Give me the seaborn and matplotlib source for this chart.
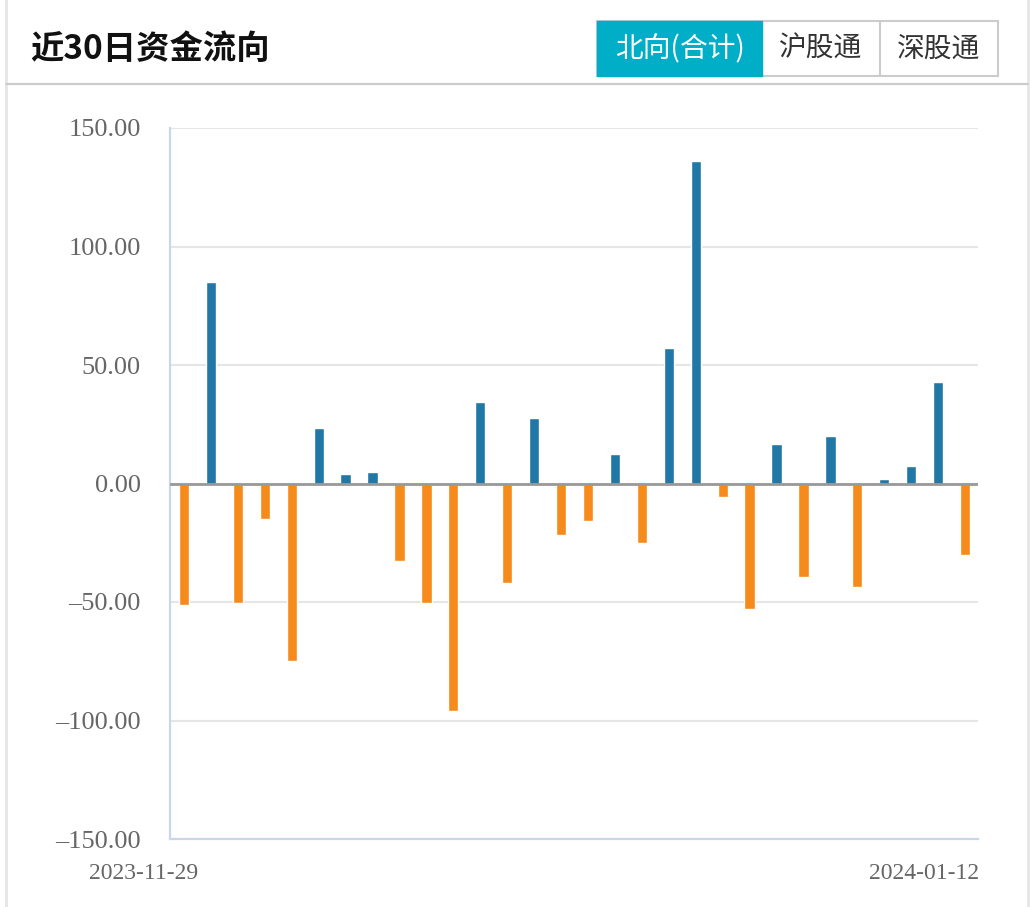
import numpy as np
import pandas as pd
import matplotlib
matplotlib.use("Agg")
import matplotlib.pyplot as plt
import seaborn as sns
from matplotlib.patches import Rectangle
from matplotlib.lines import Line2D
from matplotlib.transforms import ScaledTranslation

# ---------------- data ----------------
dates = ["2023-11-29", "2023-11-30", "2023-12-01", "2023-12-04", "2023-12-05",
         "2023-12-06", "2023-12-07", "2023-12-08", "2023-12-11", "2023-12-12",
         "2023-12-13", "2023-12-14", "2023-12-15", "2023-12-18", "2023-12-19",
         "2023-12-20", "2023-12-21", "2023-12-22", "2023-12-27", "2023-12-28",
         "2023-12-29", "2024-01-02", "2024-01-03", "2024-01-04", "2024-01-05",
         "2024-01-08", "2024-01-09", "2024-01-10", "2024-01-11", "2024-01-12"]
flows = [-51.3, 85.2, -50.4, -14.8, -75.0, 23.3, 3.8, 4.7, -32.6, -50.4,
         -96.2, 34.3, -41.9, 27.5, -21.6, -15.7, 12.3, -25.0, 57.2, 136.0,
         -5.5, -53.0, 16.5, -39.4, 19.9, -43.6, 2.1, 7.2, 42.8, -30.1]
yticks = [-150, -100, -50, 0, 50, 100, 150]
title = "近30日资金流向"
tabs = ["北向(合计)", "沪股通", "深股通"]

# ---------------- figure ----------------
W, H = 1035, 907
sns.set_theme(style="white")
plt.rcParams['font.family'] = ['Noto Sans CJK SC', 'DejaVu Sans']

fig = plt.figure(figsize=(W / 100, H / 100), dpi=100)
fig.patch.set_facecolor("white")

def fx(x):
    return x / W

def fy(y):
    return 1 - y / H

# axes placement
ax_l, ax_r, ax_t, ax_b = 170, 978, 128, 839
ax = fig.add_axes([fx(ax_l), fy(ax_b), fx(ax_r - ax_l), (ax_b - ax_t) / H])

df = pd.DataFrame({"date": dates, "flow": flows})
df["sign"] = np.where(df["flow"] >= 0, "pos", "neg")
sns.barplot(data=df, x="date", y="flow", hue="sign",
            palette={"pos": "#2177a5", "neg": "#f68a1a"},
            dodge=False, width=0.38, legend=False, ax=ax,
            saturation=1, zorder=2, order=dates)

ax.set_xlim(-0.52, len(dates) - 1 + 0.48)
ax.set_ylim(-150, 150)
ax.set_yticks(yticks)
ax.set_yticklabels([f"{v:.2f}".replace("-", "\u2013") for v in yticks])
ax.yaxis.grid(True, color="#e6e6e6", lw=1.5, zorder=0)
ax.set_axisbelow(True)
ax.axhline(0, color="#999999", lw=2.0, zorder=3)

ax.set_xlabel("")
ax.set_ylabel("")

for s in ["top", "right"]:
    ax.spines[s].set_visible(False)
for s in ["left", "bottom"]:
    ax.spines[s].set_color("#ccd6eb")
    ax.spines[s].set_linewidth(1.6)

ax.tick_params(axis="y", length=0, pad=21, labelsize=19, labelcolor="#666666")
for lbl in ax.get_yticklabels():
    lbl.set_family("Liberation Serif")

ax.set_xticks([0, len(dates) - 1])
ax.set_xticklabels([dates[0], dates[-1]])
ax.tick_params(axis="x", length=8, width=1.6, color="#ccd6eb", pad=9,
               labelsize=17, labelcolor="#666666")
offset = ScaledTranslation(14 / 100, 0, fig.dpi_scale_trans)
for lbl in ax.get_xticklabels():
    lbl.set_family("Liberation Serif")
    lbl.set_horizontalalignment("right")
    lbl.set_transform(lbl.get_transform() + offset)

# ---------------- frame & header ----------------
fig.add_artist(Line2D([fx(6), fx(6)], [fy(0), fy(907)], color="#e6e6e6", lw=2))
fig.add_artist(Line2D([fx(1028), fx(1028)], [fy(0), fy(907)], color="#e6e6e6", lw=2))
fig.add_artist(Line2D([fx(6), fx(1028)], [fy(84), fy(84)], color="#cccccc", lw=1.6))

fig.text(fx(30), fy(49), title, fontsize=24, fontweight="bold", color="#111111",
         ha="left", va="center")

# tab buttons
tab_edges = [597, 762, 880, 998]
ty0, ty1 = 21, 76
fig.add_artist(Rectangle((fx(597), fy(ty1)), fx(998 - 597), (ty1 - ty0) / H,
                         transform=fig.transFigure, facecolor="white",
                         edgecolor="#cccccc", lw=1.5))
fig.add_artist(Rectangle((fx(597), fy(ty1)), fx(762 - 597), (ty1 - ty0) / H,
                         transform=fig.transFigure, facecolor="#00aec8",
                         edgecolor="#00aec8", lw=1.0))
fig.add_artist(Line2D([fx(880), fx(880)], [fy(ty0), fy(ty1)], color="#cccccc", lw=1.5))
for i, t in enumerate(tabs):
    cx = (tab_edges[i] + tab_edges[i + 1]) / 2
    fig.text(fx(cx), fy(49), t, fontsize=20,
             color="white" if i == 0 else "#333333", ha="center", va="center")

fig.savefig("out.png", dpi=100, facecolor="white")
